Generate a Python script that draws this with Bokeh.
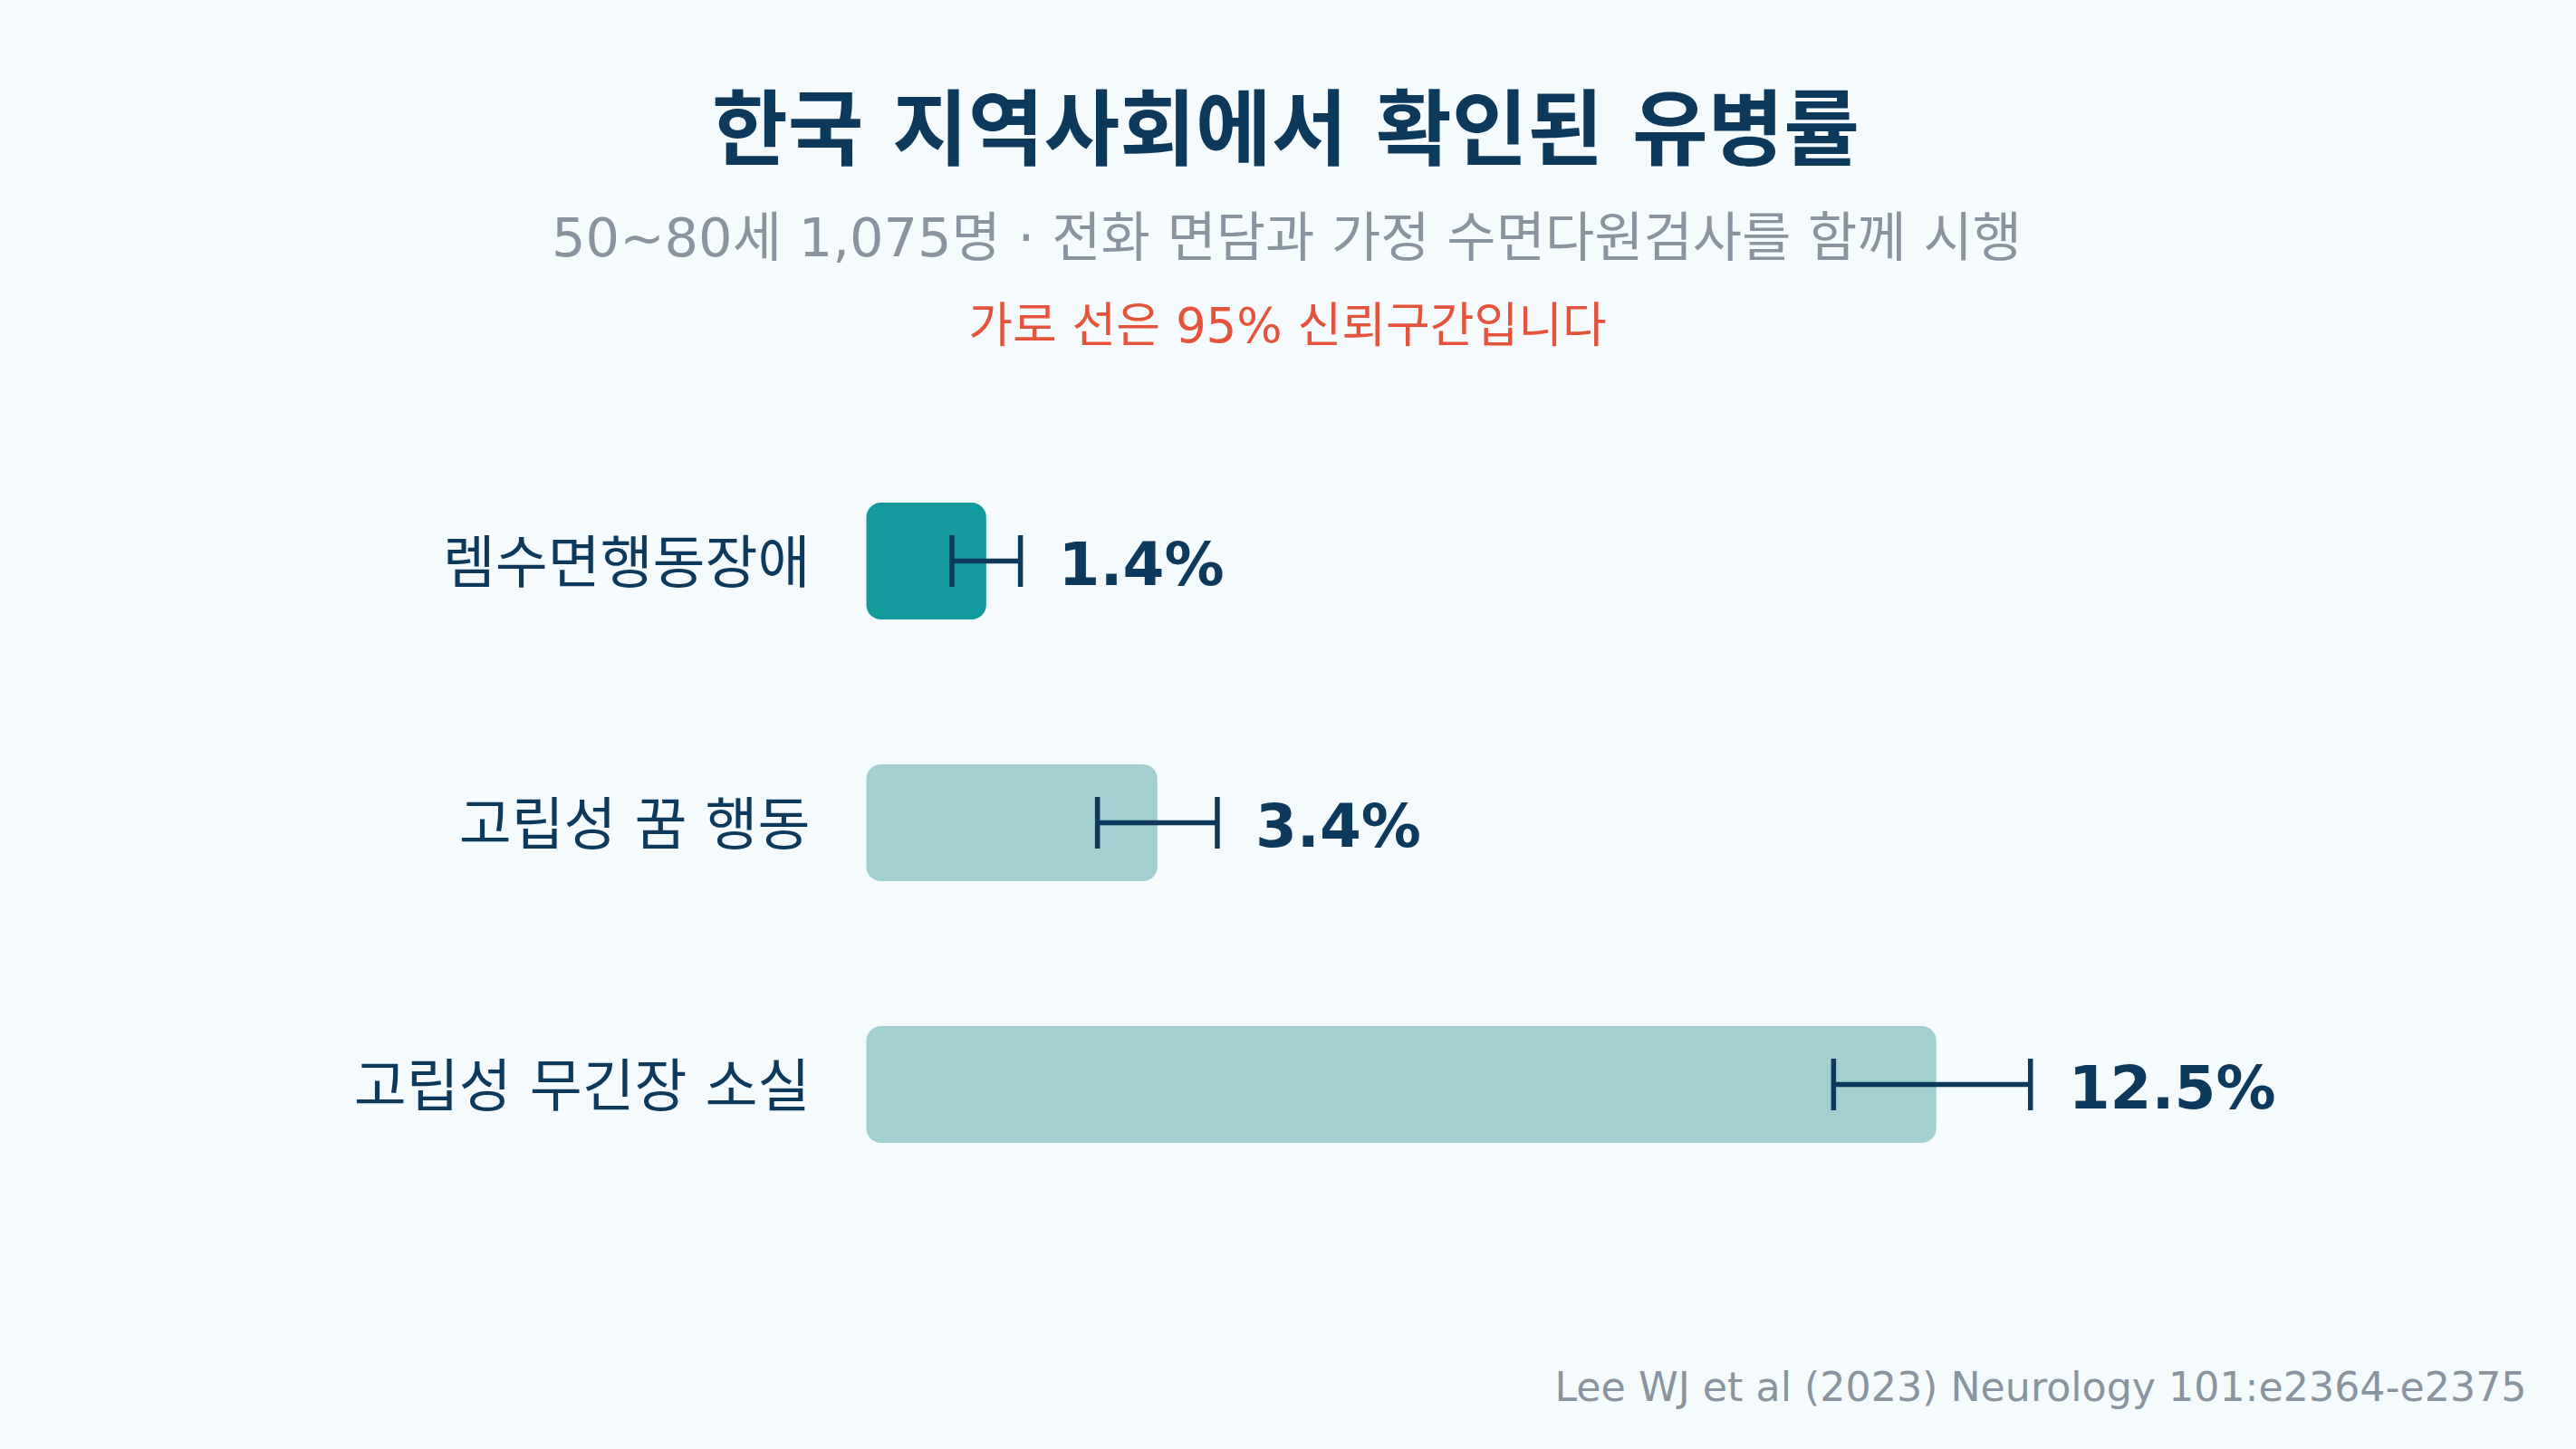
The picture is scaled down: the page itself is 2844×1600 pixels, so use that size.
from bokeh.plotting import figure
from bokeh.models import ColumnDataSource, Range1d, Label, Whisker, TeeHead
from bokeh.core.properties import value
from bokeh.embed import file_html
from bokeh.resources import INLINE
from jinja2 import Template

# ---- data ----
categories = ["렘수면행동장애", "고립성 꿈 행동", "고립성 무긴장 소실"]
prevalence = [1.4, 3.4, 12.5]
ci_low = [1.0, 2.7, 11.3]
ci_high = [1.8, 4.1, 13.6]
bar_colors = ["#139A9C", "#A2D0D1", "#A2D0D1"]
value_labels = ["1.4%", "3.4%", "12.5%"]

title_text = "한국 지역사회에서 확인된 유병률"
subtitle_text = "50~80세 1,075명 · 전화 면담과 가정 수면다원검사를 함께 시행"
note_text = "가로 선은 95% 신뢰구간입니다"
source_text = "Lee WJ et al (2023) Neurology 101:e2364-e2375"

# ---- style ----
BG = "#F5FBFC"
NAVY = "#0D3A5C"
GRAY = "#8A949F"
RED = "#E5533D"
FONT = "DejaVu Sans, Noto Sans CJK KR"

W, H = 2828, 1584
PX_PER_UNIT = 94.5          # pixels per percentage point
X0 = 956                    # pixel position of 0 %
ROW0 = 619                  # pixel center of first row (from top)
ROW_STEP = 289              # pixels between rows
DY = 8                      # vertical shift of the header block

x_range = Range1d(-X0 / PX_PER_UNIT, (W - X0) / PX_PER_UNIT)
y_range = Range1d((H - ROW0) / ROW_STEP, -ROW0 / ROW_STEP)

p = figure(width=W, height=H, x_range=x_range, y_range=y_range,
           output_backend="svg", toolbar_location=None,
           x_axis_location=None, y_axis_location=None,
           min_border=0, background_fill_color=BG, border_fill_color=BG,
           outline_line_color=None)
p.grid.visible = False

rows = list(range(len(categories)))
src = ColumnDataSource(dict(
    y=rows, cat=categories, val=prevalence, lo=ci_low, hi=ci_high,
    color=bar_colors, lab=value_labels, zero=[0] * len(rows)))

p.hbar(y="y", left=0, right="val", height=129 / ROW_STEP, source=src,
       fill_color="color", line_color=None, border_radius=16)

whisk = Whisker(base="y", lower="lo", upper="hi", dimension="width", source=src,
                line_color=NAVY, line_width=5.5, level="overlay",
                lower_head=TeeHead(size=57, line_color=NAVY, line_width=5.5),
                upper_head=TeeHead(size=57, line_color=NAVY, line_width=5.5))
p.add_layout(whisk)

p.text(x="hi", y="y", text="lab", source=src, x_offset=42, y_offset=4,
       text_font=value("DejaVu Sans"), text_font_style="bold",
       text_font_size="66px", text_color=NAVY,
       text_align="left", text_baseline="alphabetic")

p.text(x="zero", y="y", text="cat", source=src, x_offset=-62, y_offset=2,
       text_font=value(FONT), text_font_size="63px", text_color=NAVY,
       text_align="right", text_baseline="middle")

# ---- titles (screen units, frame = whole figure) ----
p.add_layout(Label(x=W / 2 + 5, y=H - 135 - DY, x_units="screen", y_units="screen",
                   text=title_text, text_font=FONT, text_font_style="bold",
                   text_font_size="91px", text_color=NAVY,
                   text_align="center", text_baseline="middle"))
p.add_layout(Label(x=W / 2 + 6, y=H - 254 - DY, x_units="screen", y_units="screen",
                   text=subtitle_text, text_font=FONT,
                   text_font_size="59px", text_color=GRAY,
                   text_align="center", text_baseline="middle"))
p.add_layout(Label(x=W / 2 + 7, y=H - 351 - DY, x_units="screen", y_units="screen",
                   text=note_text, text_font=FONT,
                   text_font_size="53px", text_color=RED,
                   text_align="center", text_baseline="middle"))
p.add_layout(Label(x=W - 39, y=H - 1531, x_units="screen", y_units="screen",
                   text=source_text, text_font=FONT,
                   text_font_size="44.3px", text_color=GRAY,
                   text_align="right", text_baseline="alphabetic"))

template = Template("""{% extends base %}
{% block preamble %}<style>html, body { background-color: """ + BG + """; }</style>{% endblock %}""")

html = file_html(p, INLINE, title="유병률", template=template)
with open("out.html", "w", encoding="utf-8") as f:
    f.write(html)
